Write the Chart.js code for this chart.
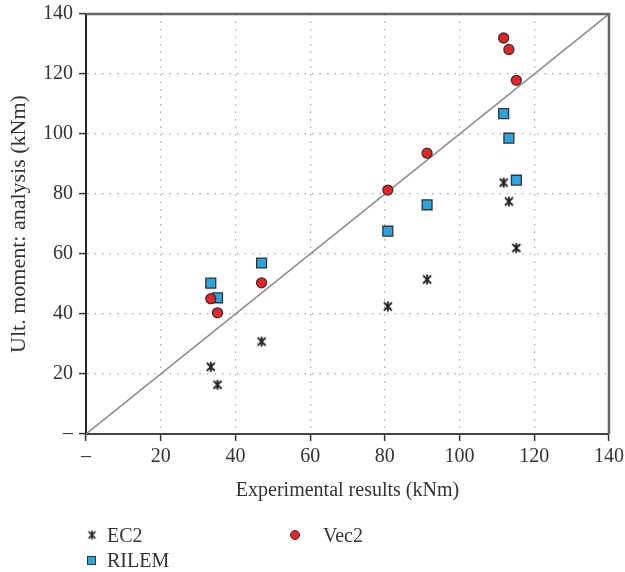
<!DOCTYPE html>
<html><head><meta charset="utf-8">
<script src="https://cdn.jsdelivr.net/npm/chart.js@4/dist/chart.umd.min.js"></script>
<style>
html,body{margin:0;padding:0;background:#fff;}
#wrap{position:relative;width:625px;height:572px;}
#c{position:absolute;left:0;top:0;}
.lg{position:absolute;font-family:"Liberation Serif","DejaVu Serif",serif;font-size:20px;color:#333;line-height:22px;white-space:nowrap;}
.mk{position:absolute;}
</style></head>
<body>
<div id="wrap">
<canvas id="c" width="625" height="572"></canvas>
<canvas class="mk" id="mkEC2" width="12" height="12" style="left:86px;top:529px;"></canvas>
<div class="lg" style="left:107px;top:524px;">EC2</div>
<div class="mk" style="left:87px;top:556px;width:9px;height:9px;background:#2ba5de;border:1.5px solid #333;box-sizing:border-box;"></div>
<div class="lg" style="left:107px;top:549px;">RILEM</div>
<div class="mk" style="left:290px;top:530px;width:10px;height:10px;border-radius:50%;background:#ec2227;border:1.3px solid #333;box-sizing:border-box;"></div>
<div class="lg" style="left:323px;top:524px;">Vec2</div>
</div>
<script>
// ---- data ----
const experimental = [33.4, 35.2, 47.0, 80.8, 91.3, 111.8, 113.2, 115.2];
const ec2Values    = [22.4, 16.4, 30.8, 42.5, 51.5, 83.8, 77.5, 62.0];
const rilemValues  = [50.3, 45.4, 57.0, 67.6, 76.4, 106.8, 98.6, 84.6];
const vec2Values   = [45.1, 40.4, 50.4, 81.3, 93.6, 132.0, 128.2, 117.9];
const seriesNames  = ["EC2", "RILEM", "Vec2"];
const axisMin = 0, axisMax = 140, axisStep = 20;
const equalityLine = [0, 140];

function pairs(xs, ys){ return xs.map((x,i)=>({x:x, y:ys[i]})); }

function makeStar(size, color, lw){
  const c = document.createElement('canvas');
  c.width = size; c.height = size;
  const g = c.getContext('2d');
  g.strokeStyle = color; g.lineWidth = lw;
  const m = 2, s = size - 2;
  g.beginPath();
  g.moveTo(m,m); g.lineTo(s,s);
  g.moveTo(s,m); g.lineTo(m,s);
  g.moveTo(size/2, m-1); g.lineTo(size/2, s+1);
  g.stroke();
  return c;
}
const starImg = makeStar(12, '#222', 1.8);
(function(){
  const c = document.getElementById('mkEC2'); const g = c.getContext('2d');
  g.drawImage(makeStar(11,'#222',1.7), 0.5, 0.5);
})();

const frame = {
  id: 'frame',
  afterDatasetsDraw(chart){
    const {ctx, chartArea:a} = chart;
    ctx.save();
    ctx.strokeStyle = '#666'; ctx.lineWidth = 2.5;
    ctx.beginPath();
    ctx.moveTo(a.left, a.top); ctx.lineTo(a.right, a.top); ctx.lineTo(a.right, a.bottom);
    ctx.stroke();
    ctx.restore();
  }
};

const fontFam = '"Liberation Serif","DejaVu Serif",serif';
const tickCb = v => v === 0 ? '–' : v;

new Chart(document.getElementById('c'), {
  type: 'scatter',
  data: {
    datasets: [
      { label: seriesNames[2], data: pairs(experimental, vec2Values), order: 0,
        pointStyle: 'circle', radius: 5, backgroundColor: '#ec2227', borderColor: '#333', borderWidth: 1.3 },
      { label: seriesNames[1], data: pairs(experimental, rilemValues), order: 1,
        pointStyle: 'rect', radius: 7, backgroundColor: '#2ba5de', borderColor: '#333', borderWidth: 1.3 },
      { label: seriesNames[0], data: pairs(experimental, ec2Values), order: 2,
        pointStyle: starImg, radius: 6 },
      { label: 'y = x', type: 'line', data: pairs(equalityLine, equalityLine), order: 3,
        borderColor: '#8a8a8a', borderWidth: 1.5, pointRadius: 0, fill: false }
    ]
  },
  options: {
    responsive: false,
    animation: false,
    layout: { padding: { left: 0, right: 0, top: 1, bottom: 69 } },
    plugins: { legend: { display: false }, tooltip: { enabled: false } },
    scales: {
      x: {
        type: 'linear', min: axisMin, max: axisMax,
        afterFit(s){ s.height = 69; s.paddingRight = 16; },
        ticks: { stepSize: axisStep, callback: tickCb, color: '#333', padding: 4,
                 font: { family: fontFam, size: 20 }, maxRotation: 0 },
        grid: { color: '#a8a8a8', lineWidth: 1.2, tickLength: 7, tickColor: '#333', tickWidth: 1.5 },
        border: { color: '#444', width: 2, dash: [1.5, 6] },
        title: { display: true, text: 'Experimental results (kNm)', color: '#333',
                 font: { family: fontFam, size: 20 }, padding: { top: 0, bottom: 0 } }
      },
      y: {
        type: 'linear', min: axisMin, max: axisMax,
        afterFit(s){ s.width = 86; s.paddingTop = 14; },
        ticks: { stepSize: axisStep, callback: tickCb, color: '#333', padding: 6,
                 font: { family: fontFam, size: 20 } },
        grid: { color: '#a8a8a8', lineWidth: 1.2, tickLength: 7, tickColor: '#333', tickWidth: 1.5 },
        border: { color: '#222', width: 2, dash: [1.5, 6] },
        title: { display: true, text: 'Ult. moment: analysis (kNm)', color: '#333',
                 font: { family: fontFam, size: 22 }, padding: { top: 6, bottom: 0 } }
      }
    }
  },
  plugins: [frame]
});
</script>
</body></html>
